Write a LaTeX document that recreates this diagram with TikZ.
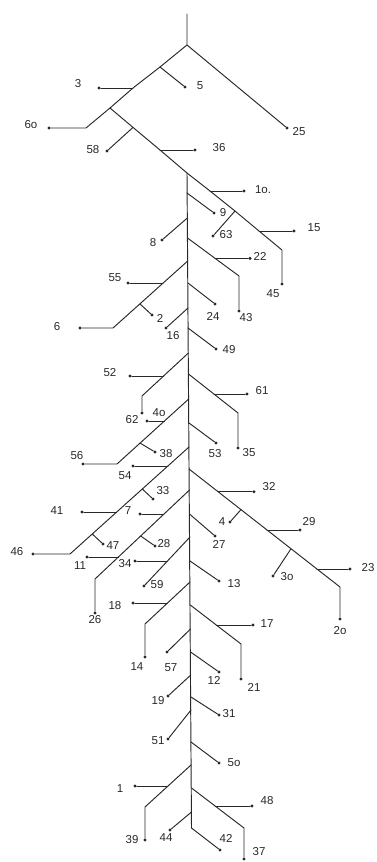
\documentclass[tikz,border=0pt]{standalone}
\usepackage{fontspec}
\setmainfont{Liberation Sans}
\definecolor{ink}{RGB}{40,40,40}
\tikzset{
  ln/.style={draw=ink,line width=0.95pt,line join=round,line cap=round},
  dot/.style={circle,fill=ink,inner sep=0pt,minimum size=3.4pt},
  lbl/.style={text=ink,inner sep=0pt,font=\fontsize{11.5}{13}\selectfont}
}
\begin{document}
\begin{tikzpicture}[x=1pt,y=-1pt]
\useasboundingbox (0,0) rectangle (377,862);
% ---------- upper part ----------
\coordinate (top) at (187,14);
\coordinate (r0) at (187,45);
\coordinate (a5) at (160,67);
\coordinate (a3) at (133,88);
\coordinate (a60) at (110,108);
\coordinate (b60) at (86,128);
\coordinate (a58) at (133,127.4);
\coordinate (a36) at (160,150);
\coordinate (t0) at (187,173);
\coordinate (a10) at (210,191);
\coordinate (a63) at (235,211);
\coordinate (a15) at (259,231);
\coordinate (b45) at (282,250);
\node[dot] (n60) at (49,128) {};
\node[dot] (n5) at (185,87) {};
\node[dot] (n3) at (99,88) {};
\node[dot] (n25) at (287,128) {};
\node[dot] (n58) at (107,151) {};
\node[dot] (n36) at (195,150) {};
\node[dot] (n10) at (244,191) {};
\node[dot] (n63) at (213,236) {};
\node[dot] (n15) at (294,231) {};
\node[dot] (n45) at (282,284) {};
\draw[ln] (top) -- (r0) -- (n25);
\draw[ln] (r0) -- (a5) -- (a3) -- (a60) -- (b60) -- (n60);
\draw[ln] (a5) -- (n5);
\draw[ln] (a3) -- (n3);
\draw[ln] (a60) -- (a58) -- (a36) -- (t0) -- (a10) -- (a63) -- (a15) -- (b45) -- (n45);
\draw[ln] (a58) -- (n58);
\draw[ln] (a36) -- (n36);
\draw[ln] (a10) -- (n10);
\draw[ln] (a63) -- (n63);
\draw[ln] (a15) -- (n15);
% ---------- trunk ----------
\coordinate (tb) at (191.5,828);
\draw[ln] (t0) -- (tb);
% ---------- branches off trunk ----------
\coordinate (t9) at (187,193);   \node[dot] (n9) at (214,213) {};  \draw[ln] (t9) -- (n9);
\coordinate (t8) at (187.3,218); \node[dot] (n8) at (162,240) {};  \draw[ln] (t8) -- (n8);
\coordinate (t22) at (187.5,238); \coordinate (b43) at (239,276); \coordinate (a22) at (215,258.3);
\node[dot] (n43) at (239,311) {}; \node[dot] (n22) at (250,258.3) {};
\draw[ln] (t22) -- (b43) -- (n43); \draw[ln] (a22) -- (n22);
\coordinate (t55) at (187.7,261); \coordinate (b6) at (113,328);
\coordinate (a55) at (163,283); \coordinate (a2) at (140,304);
\node[dot] (n6) at (80,328) {}; \node[dot] (n55) at (128,283) {}; \node[dot] (n2) at (152,315) {};
\draw[ln] (t55) -- (b6) -- (n6); \draw[ln] (a55) -- (n55); \draw[ln] (a2) -- (n2);
\coordinate (t24) at (188,283); \node[dot] (n24) at (215,304) {}; \draw[ln] (t24) -- (n24);
\coordinate (t16) at (188,308); \node[dot] (n16) at (166,328) {}; \draw[ln] (t16) -- (n16);
\coordinate (t49) at (188,328); \node[dot] (n49) at (216,349) {}; \draw[ln] (t49) -- (n49);
\coordinate (t52) at (188.4,353); \coordinate (b62) at (142,396); \coordinate (a52) at (163.6,376);
\node[dot] (n62) at (142,413) {}; \node[dot] (n52) at (130,376) {};
\draw[ln] (t52) -- (b62) -- (n62); \draw[ln] (a52) -- (n52);
\coordinate (t61) at (188.5,374); \coordinate (b35) at (238,413); \coordinate (a61) at (214,394);
\node[dot] (n35) at (238,448) {}; \node[dot] (n61) at (247,394) {};
\draw[ln] (t61) -- (b35) -- (n35); \draw[ln] (a61) -- (n61);
\coordinate (t40) at (188.7,399); \coordinate (b56) at (117,464);
\coordinate (a40) at (164.4,421); \coordinate (a38) at (140,443);
\node[dot] (n56) at (83,464) {}; \node[dot] (n40) at (147,421) {}; \node[dot] (n38) at (155,452) {};
\draw[ln] (t40) -- (b56) -- (n56); \draw[ln] (a40) -- (n40); \draw[ln] (a38) -- (n38);
\coordinate (t53) at (189,423); \node[dot] (n53) at (216,443) {}; \draw[ln] (t53) -- (n53);
\coordinate (t46) at (189,447); \coordinate (b46) at (70,554);
\coordinate (a54) at (167.9,466); \coordinate (a33) at (142.3,489);
\coordinate (a41) at (116.7,512); \coordinate (a47) at (92.3,534);
\node[dot] (n46) at (33,554) {}; \node[dot] (n54) at (133,466) {}; \node[dot] (n33) at (153,499) {};
\node[dot] (n41) at (82,512) {}; \node[dot] (n47) at (103,544) {};
\draw[ln] (t46) -- (b46) -- (n46); \draw[ln] (a54) -- (n54); \draw[ln] (a33) -- (n33);
\draw[ln] (a41) -- (n41); \draw[ln] (a47) -- (n47);
\coordinate (t32) at (189,469); \coordinate (b20) at (340,587);
\coordinate (a32) at (218,491.7); \coordinate (a4) at (241,509.6); \coordinate (a29) at (267,530);
\coordinate (a30) at (291,548.7); \coordinate (a23) at (317,569);
\node[dot] (n20) at (340,619) {}; \node[dot] (n32) at (254,491.7) {}; \node[dot] (n4) at (230,522) {};
\node[dot] (n29) at (300,530) {}; \node[dot] (n30) at (273,576) {}; \node[dot] (n23) at (350,569) {};
\draw[ln] (t32) -- (b20) -- (n20); \draw[ln] (a32) -- (n32); \draw[ln] (a4) -- (n4);
\draw[ln] (a29) -- (n29); \draw[ln] (a30) -- (n30); \draw[ln] (a23) -- (n23);
\coordinate (t7) at (189.5,490); \coordinate (b26) at (95,579);
\coordinate (a7) at (164,514); \coordinate (a28) at (140.7,536); \coordinate (a11) at (118.4,557);
\node[dot] (n26) at (95,613) {}; \node[dot] (n7) at (140,514) {}; \node[dot] (n28) at (155,546) {};
\node[dot] (n11) at (87,557) {};
\draw[ln] (t7) -- (b26) -- (n26); \draw[ln] (a7) -- (n7); \draw[ln] (a28) -- (n28); \draw[ln] (a11) -- (n11);
\coordinate (t27) at (189.5,514); \node[dot] (n27) at (215,536) {}; \draw[ln] (t27) -- (n27);
\coordinate (t34) at (190,537); \coordinate (a34) at (167.5,561);
\node[dot] (n59) at (144,586) {}; \node[dot] (n34) at (135,561) {};
\draw[ln] (t34) -- (n59); \draw[ln] (a34) -- (n34);
\coordinate (t13) at (190,561); \node[dot] (n13) at (219,581) {}; \draw[ln] (t13) -- (n13);
\coordinate (t18) at (190,582); \coordinate (b14) at (145,624); \coordinate (a18) at (167.5,603);
\node[dot] (n14) at (145,657) {}; \node[dot] (n18) at (133,603) {};
\draw[ln] (t18) -- (b14) -- (n14); \draw[ln] (a18) -- (n18);
\coordinate (t17) at (190.3,605); \coordinate (b21) at (241,644); \coordinate (a17) at (216.3,625);
\node[dot] (n21) at (241,679) {}; \node[dot] (n17) at (253,625) {};
\draw[ln] (t17) -- (b21) -- (n21); \draw[ln] (a17) -- (n17);
\coordinate (t57) at (190.5,629); \node[dot] (n57) at (167,652) {}; \draw[ln] (t57) -- (n57);
\coordinate (t12) at (190.6,652); \node[dot] (n12) at (219,672) {}; \draw[ln] (t12) -- (n12);
\coordinate (t19) at (190.8,675); \node[dot] (n19) at (168,696) {}; \draw[ln] (t19) -- (n19);
\coordinate (t31) at (191,697); \node[dot] (n31) at (219,715) {}; \draw[ln] (t31) -- (n31);
\coordinate (t51) at (191,710); \node[dot] (n51) at (168,739) {}; \draw[ln] (t51) -- (n51);
\coordinate (t50) at (191,742); \node[dot] (n50) at (219,763) {}; \draw[ln] (t50) -- (n50);
\coordinate (t1) at (191,765); \coordinate (b39) at (145,807); \coordinate (a1) at (168,786);
\node[dot] (n39) at (145,840) {}; \node[dot] (n1) at (135,786) {};
\draw[ln] (t1) -- (b39) -- (n39); \draw[ln] (a1) -- (n1);
\coordinate (t48) at (191.5,788); \coordinate (b37) at (244,828); \coordinate (a48) at (215,806);
\node[dot] (n37) at (244,859) {}; \node[dot] (n48) at (252,806) {};
\draw[ln] (t48) -- (b37) -- (n37); \draw[ln] (a48) -- (n48);
\coordinate (t44) at (191.5,812); \node[dot] (n44) at (170,830) {}; \draw[ln] (t44) -- (n44);
\node[dot] (n42) at (220,850) {}; \draw[ln] (tb) -- (n42);
% ---------- labels ----------
\node[lbl] (l3) at (78,84) {3};
\node[lbl] (l5) at (200,86) {5};
\node[lbl] (l60) at (31,125) {6o};
\node[lbl] (l25) at (299,132) {25};
\node[lbl] (l58) at (93,150) {58};
\node[lbl] (l36) at (219,148) {36};
\node[lbl] (l10) at (263,190) {1o.};
\node[lbl] (l9) at (223,213) {9};
\node[lbl] (l63) at (226,235) {63};
\node[lbl] (l15) at (314,228) {15};
\node[lbl] (l8) at (153,243) {8};
\node[lbl] (l22) at (260,256) {22};
\node[lbl] (l55) at (115,278) {55};
\node[lbl] (l45) at (273,294) {45};
\node[lbl] (l6) at (57,327) {6};
\node[lbl] (l2) at (160,318) {2};
\node[lbl] (l24) at (213,316) {24};
\node[lbl] (l43) at (246,318) {43};
\node[lbl] (l16) at (173,336) {16};
\node[lbl] (l49) at (229,350) {49};
\node[lbl] (l52) at (110,373) {52};
\node[lbl] (l61) at (262,391) {61};
\node[lbl] (l40) at (159,413) {4o};
\node[lbl] (l62) at (132,420) {62};
\node[lbl] (l53) at (215,454) {53};
\node[lbl] (l35) at (249,453) {35};
\node[lbl] (l56) at (77,456) {56};
\node[lbl] (l38) at (166,454) {38};
\node[lbl] (l54) at (125,476) {54};
\node[lbl] (l33) at (163,491) {33};
\node[lbl] (l32) at (269,487) {32};
\node[lbl] (l41) at (57,511) {41};
\node[lbl] (l7) at (128,511) {7};
\node[lbl] (l4) at (222,522) {4};
\node[lbl] (l29) at (309,522) {29};
\node[lbl] (l27) at (219,544) {27};
\node[lbl] (l47) at (113,546) {47};
\node[lbl] (l28) at (164,544) {28};
\node[lbl] (l46) at (17,552) {46};
\node[lbl] (l11) at (80,566) {11};
\node[lbl] (l34) at (125,564) {34};
\node[lbl] (l23) at (368,568) {23};
\node[lbl] (l30) at (287,577) {3o};
\node[lbl] (l59) at (157,585) {59};
\node[lbl] (l13) at (234,584) {13};
\node[lbl] (l18) at (115,606) {18};
\node[lbl] (l26) at (95,620) {26};
\node[lbl] (l17) at (267,624) {17};
\node[lbl] (l20) at (340,631) {2o};
\node[lbl] (l14) at (137,667) {14};
\node[lbl] (l57) at (171,668) {57};
\node[lbl] (l12) at (214,680) {12};
\node[lbl] (l21) at (254,687) {21};
\node[lbl] (l19) at (158,701) {19};
\node[lbl] (l31) at (229,714) {31};
\node[lbl] (l51) at (158,741) {51};
\node[lbl] (l50) at (234,763) {5o};
\node[lbl] (l1) at (120,789) {1};
\node[lbl] (l48) at (267,801) {48};
\node[lbl] (l42) at (226,838) {42};
\node[lbl] (l39) at (132,840) {39};
\node[lbl] (l44) at (166,838) {44};
\node[lbl] (l37) at (259,852) {37};
\end{tikzpicture}
\end{document}
